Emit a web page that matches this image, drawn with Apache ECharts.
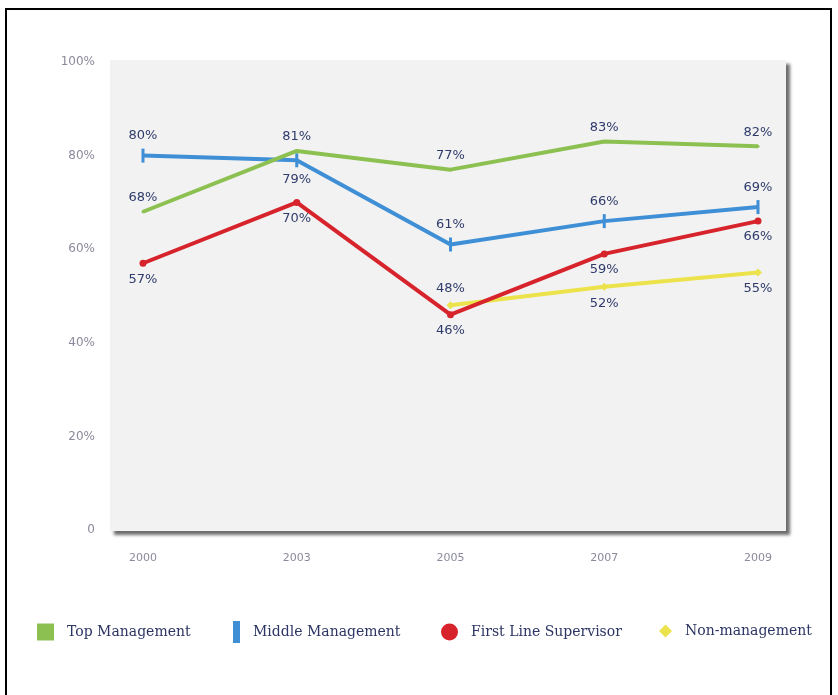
<!DOCTYPE html>
<html>
<head>
<meta charset="utf-8">
<script src="https://cdn.jsdelivr.net/npm/echarts@6/dist/echarts.min.js"></script>
<style>
  html, body { margin: 0; padding: 0; background: #ffffff; }
  #chart { width: 838px; height: 695px; }
</style>
</head>
<body>
<div id="chart"></div>
<script>
// Survey years and the share (%) of respondents in each staff level
const years = ['2000', '2003', '2005', '2007', '2009'];
const topManagement = [68, 81, 77, 83, 82];
const middleManagement = [80, 79, 61, 66, 69];
const firstLineSupervisor = [57, 70, 46, 59, 66];
const nonManagement = [null, null, 48, 52, 55];
const yTicks = [0, 20, 40, 60, 80, 100];

const seriesNames = ['Top Management', 'Middle Management', 'First Line Supervisor', 'Non-management'];
const colors = ['#8cc152', '#3f8fd6', '#d7232b', '#ece34c'];

const labelText = { color: '#2f3b6b', fontSize: 13, fontFamily: 'DejaVu Sans' };

const chart = echarts.init(document.getElementById('chart'));

// One legend per series so each can carry its own icon shape and size;
// every legend is centred on the same text line.
function legendFor(i, left, icon, w, h) {
  const centre = 627;
  return {
    left: left, top: centre - Math.max(h, 16) / 2,
    icon: icon,
    itemWidth: w, itemHeight: h,
    itemGap: 0,
    data: [seriesNames[i]],
    selectedMode: false,
    textStyle: { color: '#2c3563', fontSize: 14, fontFamily: 'DejaVu Serif', padding: [0, 0, 0, 8] }
  };
}

function makeSeries(i, data, symbol, size, positions) {
  return {
    name: seriesNames[i],
    type: 'line',
    color: colors[i],
    symbol: symbol,
    symbolSize: size,
    showAllSymbol: true,
    lineStyle: { width: 4, color: colors[i] },
    itemStyle: { color: colors[i] },
    emphasis: { disabled: true },
    z: 10 - i,
    label: {
      show: true,
      formatter: v => v.value + '%',
      ...labelText,
      distance: 6
    },
    data: data.map((v, k) => v === null ? null : {
      value: v,
      label: { position: positions[k] }
    })
  };
}

chart.setOption({
  animation: false,
  graphic: [
    {
      type: 'rect',
      shape: { x: 6, y: 9, width: 825, height: 700 },
      style: { fill: 'none', stroke: '#000', lineWidth: 2 },
      z: -10
    },
    {
      type: 'rect',
      shape: { x: 110, y: 60, width: 676, height: 471 },
      style: {
        fill: '#f2f2f2',
        shadowBlur: 3,
        shadowOffsetX: 4,
        shadowOffsetY: 4,
        shadowColor: 'rgba(60,60,60,0.75)'
      },
      z: -5
    }
  ],
  grid: { left: 143, right: 80, top: 62, bottom: 165 },
  legend: [
    legendFor(0, 32, 'rect', 17, 17),
    legendFor(1, 228, 'rect', 7, 22),
    legendFor(2, 436, 'circle', 17, 17),
    legendFor(3, 654, 'diamond', 13, 13)
  ],
  xAxis: {
    type: 'category',
    data: years,
    boundaryGap: false,
    axisLine: { show: false },
    axisTick: { show: false },
    axisLabel: { color: '#8a8a9c', fontSize: 11, fontFamily: 'DejaVu Sans', margin: 23 }
  },
  yAxis: {
    type: 'value',
    min: 0, max: 100, interval: 20,
    splitLine: { show: false },
    axisLine: { show: false },
    axisTick: { show: false },
    axisLabel: {
      color: '#8a8a9c', fontSize: 12, fontFamily: 'DejaVu Sans', margin: 48,
      formatter: v => v === 0 ? '0' : v + '%'
    }
  },
  series: [
    makeSeries(0, topManagement, 'circle', 3, ['top', 'top', 'top', 'top', 'top']),
    makeSeries(1, middleManagement, 'rect', [3, 14], ['top', 'bottom', 'top', 'top', 'top']),
    makeSeries(2, firstLineSupervisor, 'circle', 7, ['bottom', 'bottom', 'bottom', 'bottom', 'bottom']),
    makeSeries(3, nonManagement, 'diamond', 8, [null, null, 'top', 'bottom', 'bottom'])
  ]
});
</script>
</body>
</html>
